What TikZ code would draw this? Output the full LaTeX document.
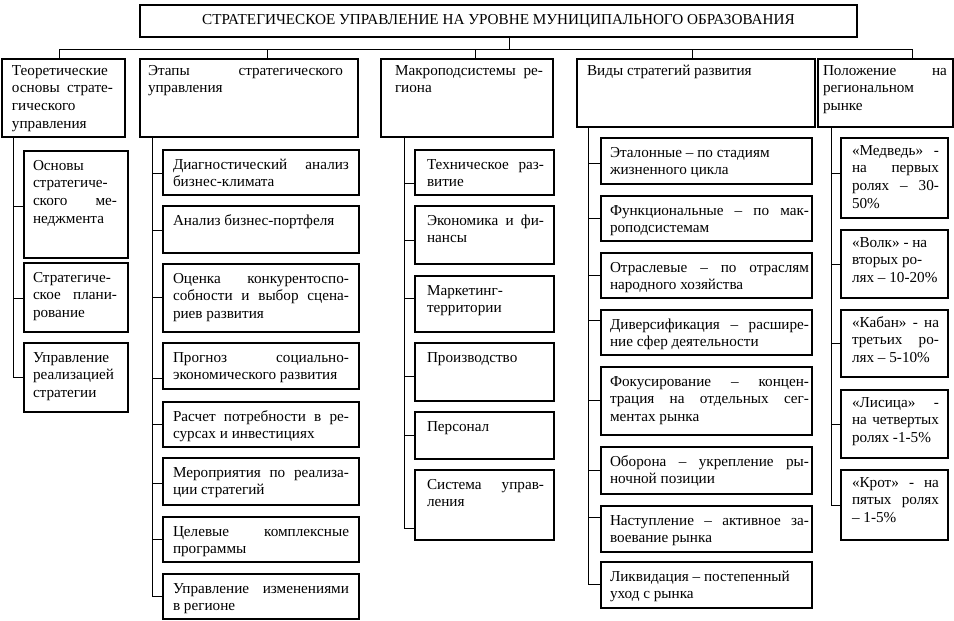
\documentclass[tikz,border=0pt]{standalone}
\usepackage{fontspec}
\setmainfont{Liberation Serif}
\newcommand\fs{\fontsize{15.2}{17.7}\selectfont\hyphenpenalty=10000 \exhyphenpenalty=10000 \tolerance=10000 \hbadness=10000 }
\tikzset{
 box/.style={draw, line width=1.1pt, anchor=north west, inner sep=0pt, outer sep=0pt},
 txt/.style={anchor=base west, inner sep=0pt, outer sep=0pt, align=justify, font=\fs},
 link/.style={line width=1pt}
}
\def\bxoff{19pt}
% name, x, y, w, h, pad, text width, text
\newcommand\bx[8]{%
 \node[box, minimum width=#4pt, minimum height=#5pt] (#1) at (#2,#3) {};
 \node[txt, text width=#7pt] (#1t) at ([xshift=#6pt, yshift=-\bxoff]#1.north west) {#8};}
% spine, node, yshift
\newcommand\stub[3]{\coordinate (#2j) at ([yshift=#3]#2.west); \draw[link] (#2j -| #1) -- (#2j);}
\begin{document}
\tolerance=10000 \hyphenpenalty=10000 \exhyphenpenalty=10000 \hbadness=10000
\begin{tikzpicture}[x=1pt,y=-1pt]
\useasboundingbox (0,0) rectangle (954,621);
% title
\node[box, minimum width=717pt, minimum height=32pt, font=\fs] (title) at (140,5)
 {СТРАТЕГИЧЕСКОЕ УПРАВЛЕНИЕ НА УРОВНЕ МУНИЦИПАЛЬНОГО ОБРАЗОВАНИЯ};
% headers
\def\bxoff{16pt}
\bx{h1}{2}{59}{123}{78}{10}{101}{Теоретические\linebreak основы страте-\linebreak гического\linebreak управления}
\bx{h2}{140}{59}{218}{78}{8}{195}{Этапы стратегического\linebreak управления}
\bx{h3}{381}{59}{172}{78}{14}{148}{Макроподсистемы ре-\linebreak гиона}
\bx{h4}{577}{59}{238}{68}{10}{210}{Виды стратегий развития}
\bx{h5}{818}{59}{135}{68}{5}{124}{Положение на\linebreak региональном\linebreak рынке}
% bus
\coordinate (bus) at (509,49);
\coordinate (d1) at (59,49);
\coordinate (d2) at (267,49);
\coordinate (d3) at (475,49);
\coordinate (d4) at (692,49);
\coordinate (d5) at (912,49);
\draw[link] (title.south -| bus) -- (bus);
\draw[link] (d1) -- (d5);
\foreach \i in {1,...,5} {\draw[link] (d\i) -- (d\i |- h\i.north);}
\def\bxoff{19pt}
% column 1
\bx{c11}{24}{151}{104}{107}{9}{84}{Основы\linebreak стратегиче-\linebreak ского ме-\linebreak неджмента}
\bx{c12}{24}{263}{104}{69}{9}{84}{Стратегиче-\linebreak ское плани-\linebreak рование}
\bx{c13}{24}{343}{104}{69}{9}{84}{Управление\linebreak реализацией\linebreak стратегии}
% column 2
\bx{c21}{163}{150}{196}{45}{10}{176}{Диагностический анализ\linebreak бизнес-климата}
\bx{c22}{163}{206}{196}{47}{10}{176}{Анализ бизнес-портфеля}
\bx{c23}{163}{264}{196}{68}{10}{176}{Оценка конкурентоспо-\linebreak собности и выбор сцена-\linebreak риев развития}
\bx{c24}{163}{343}{196}{46}{10}{176}{Прогноз социально-\linebreak экономического развития}
\bx{c25}{163}{402}{196}{45}{10}{176}{Расчет потребности в ре-\linebreak сурсах и инвестициях}
\bx{c26}{163}{458}{196}{47}{10}{176}{Мероприятия по реализа-\linebreak ции стратегий}
\bx{c27}{163}{517}{196}{45}{10}{176}{Целевые комплексные\linebreak программы}
\bx{c28}{163}{574}{196}{45}{10}{176}{Управление изменениями\linebreak в регионе}
% column 3
\bx{c31}{415}{150}{139}{45}{12}{117}{Техническое раз-\linebreak витие}
\bx{c32}{415}{206}{139}{58}{12}{117}{Экономика и фи-\linebreak нансы}
\bx{c33}{415}{276}{139}{56}{12}{117}{Маркетинг-\linebreak территории}
\bx{c34}{415}{343}{139}{58}{12}{117}{Производство}
\bx{c35}{415}{412}{139}{47}{12}{117}{Персонал}
\bx{c36}{415}{470}{139}{70}{12}{117}{Система управ-\linebreak ления}
% column 4
\bx{c41}{601}{138}{211}{46}{9}{199}{Эталонные – по стадиям\\ жизненного цикла}
\bx{c42}{601}{196}{211}{45}{9}{199}{Функциональные – по мак-\linebreak роподсистемам}
\bx{c43}{601}{253}{211}{45}{9}{199}{Отраслевые – по отраслям\linebreak народного хозяйства}
\bx{c44}{601}{310}{211}{45}{9}{199}{Диверсификация – расшире-\linebreak ние сфер деятельности}
\bx{c45}{601}{367}{211}{68}{9}{199}{Фокусирование – концен-\linebreak трация на отдельных сег-\linebreak ментах рынка}
\bx{c46}{601}{447}{211}{47}{9}{199}{Оборона – укрепление ры-\linebreak ночной позиции}
\bx{c47}{601}{506}{211}{46}{9}{199}{Наступление – активное за-\linebreak воевание рынка}
\bx{c48}{601}{562}{211}{46}{9}{199}{Ликвидация – постепенный\\ уход с рынка}
% column 5
\def\bxoff{17pt}
\bx{c51}{841}{138}{107}{80}{11}{87}{«Медведь» -\linebreak на первых\linebreak ролях – 30-\linebreak 50\%}
\bx{c52}{841}{230}{107}{68}{11}{87}{«Волк» - на\\ вторых ро-\\ лях – 10-20\%}
\bx{c53}{841}{310}{107}{67}{11}{87}{«Кабан» - на\linebreak третьих ро-\linebreak лях – 5-10\%}
\bx{c54}{841}{390}{107}{68}{11}{87}{«Лисица» -\linebreak на четвертых\linebreak ролях -1-5\%}
\bx{c55}{841}{470}{107}{70}{11}{87}{«Крот» - на\linebreak пятых ролях\linebreak – 1-5\%}
% spines
\coordinate (s1) at (13,0);
\coordinate (s2) at (152,0);
\coordinate (s3) at (404,0);
\coordinate (s4) at (588,0);
\coordinate (s5) at (831,0);
\stub{s1}{c11}{-1.5pt}
\stub{s1}{c12}{-0.5pt}
\stub{s1}{c13}{0pt}
\stub{s2}{c21}{-0.5pt}
\stub{s2}{c22}{-0.5pt}
\stub{s2}{c23}{1pt}
\stub{s2}{c24}{-12pt}
\stub{s2}{c25}{0pt}
\stub{s2}{c26}{-1.5pt}
\stub{s2}{c27}{0pt}
\stub{s2}{c28}{0pt}
\stub{s3}{c31}{-10.5pt}
\stub{s3}{c32}{-5pt}
\stub{s3}{c33}{6pt}
\stub{s3}{c34}{-4pt}
\stub{s3}{c35}{0pt}
\stub{s3}{c36}{-23pt}
\stub{s4}{c41}{-2pt}
\stub{s4}{c42}{0pt}
\stub{s4}{c43}{0pt}
\stub{s4}{c44}{12.5pt}
\stub{s4}{c45}{1pt}
\stub{s4}{c46}{0pt}
\stub{s4}{c47}{12pt}
\stub{s4}{c48}{1pt}
\stub{s5}{c51}{5pt}
\stub{s5}{c52}{0pt}
\stub{s5}{c53}{0pt}
\stub{s5}{c54}{0pt}
\stub{s5}{c55}{0pt}
\draw[link] (h1.south -| s1) -- (c13j -| s1);
\draw[link] (h2.south -| s2) -- (c28j -| s2);
\draw[link] (h3.south -| s3) -- (c36j -| s3);
\draw[link] (h4.south -| s4) -- (c48j -| s4);
\draw[link] (h5.south -| s5) -- (c55j -| s5);
\end{tikzpicture}
\end{document}
